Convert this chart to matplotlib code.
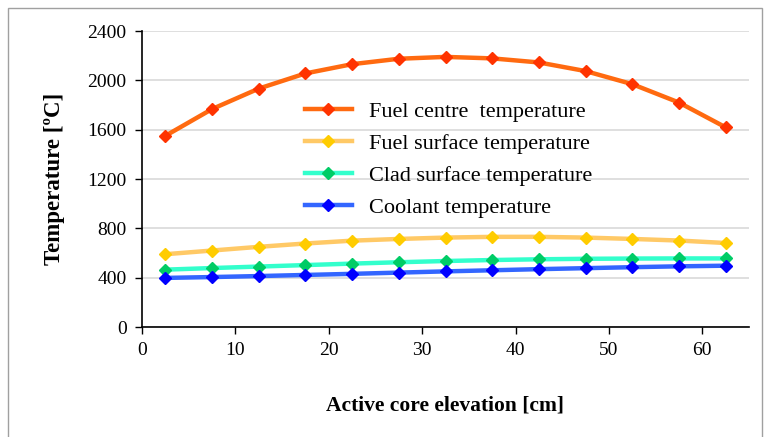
import matplotlib
matplotlib.use('Agg')
import matplotlib.pyplot as plt
from matplotlib.patches import Rectangle

# высота активной зоны, см
elevation = [2.5, 7.5, 12.5, 17.5, 22.5, 27.5, 32.5, 37.5, 42.5, 47.5, 52.5, 57.5, 62.5]
fuel_centre = [1550, 1767, 1933, 2056, 2131, 2175, 2190, 2178, 2145, 2075, 1969, 1820, 1619]
fuel_surface = [590, 620, 650, 677, 700, 714, 725, 731, 731, 725, 714, 701, 681]
clad_surface = [465, 478, 490, 502, 514, 525, 535, 543, 549, 553, 555, 556, 556]
coolant = [398, 405, 413, 422, 431, 441, 451, 460, 469, 477, 485, 492, 497]

labels = ['Fuel centre  temperature', 'Fuel surface temperature',
          'Clad surface temperature', 'Coolant temperature']
line_colors = ['#ff6a10', '#ffc966', '#33ffcc', '#3366ff']
marker_colors = ['#ff3300', '#ffcc00', '#00cc66', '#0000ff']

plt.rcParams['font.family'] = ['Liberation Serif', 'DejaVu Serif']

fig = plt.figure(figsize=(7.71, 4.37), dpi=100)
ax = fig.add_axes([142 / 771, 1 - 327 / 437, (749 - 142) / 771, (327 - 31) / 437])

series = [fuel_centre, fuel_surface, clad_surface, coolant]
for vals, lab, lc, mc in zip(series, labels, line_colors, marker_colors):
    ax.plot(elevation, vals, color=lc, lw=3.2, marker='D', markersize=6.5,
            markerfacecolor=mc, markeredgecolor=mc, label=lab)

ax.set_xlim(0, 65)
ax.set_ylim(0, 2400)
ax.set_xticks(range(0, 61, 10))
ax.set_yticks(range(0, 2401, 400))
ax.tick_params(labelsize=14, direction='out', length=5, width=1, color='black', pad=6)
ax.grid(axis='y', color='#d9d9d9', lw=1.2)
ax.set_axisbelow(True)
for s in ['top', 'right']:
    ax.spines[s].set_visible(False)
for s in ['left', 'bottom']:
    ax.spines[s].set_linewidth(1.2)

ax.set_xlabel('Active core elevation [cm]', fontsize=15.5, fontweight='bold', labelpad=26)
ax.set_ylabel('Temperature [ºC]', fontsize=16.5, fontweight='bold', labelpad=16)

ax.legend(loc='upper left', bbox_to_anchor=(0.25, 0.80), frameon=False, fontsize=16,
          handlelength=2.1, labelspacing=0.52, handletextpad=0.8, borderpad=0)

# рамка вокруг диаграммы
fig.patches.append(Rectangle((8 / 771, -0.1), (762 - 8) / 771, 1.1 - 8 / 437,
                             transform=fig.transFigure, fill=False,
                             edgecolor='#a0a0a0', lw=1))

fig.savefig('out.png', dpi=100)
